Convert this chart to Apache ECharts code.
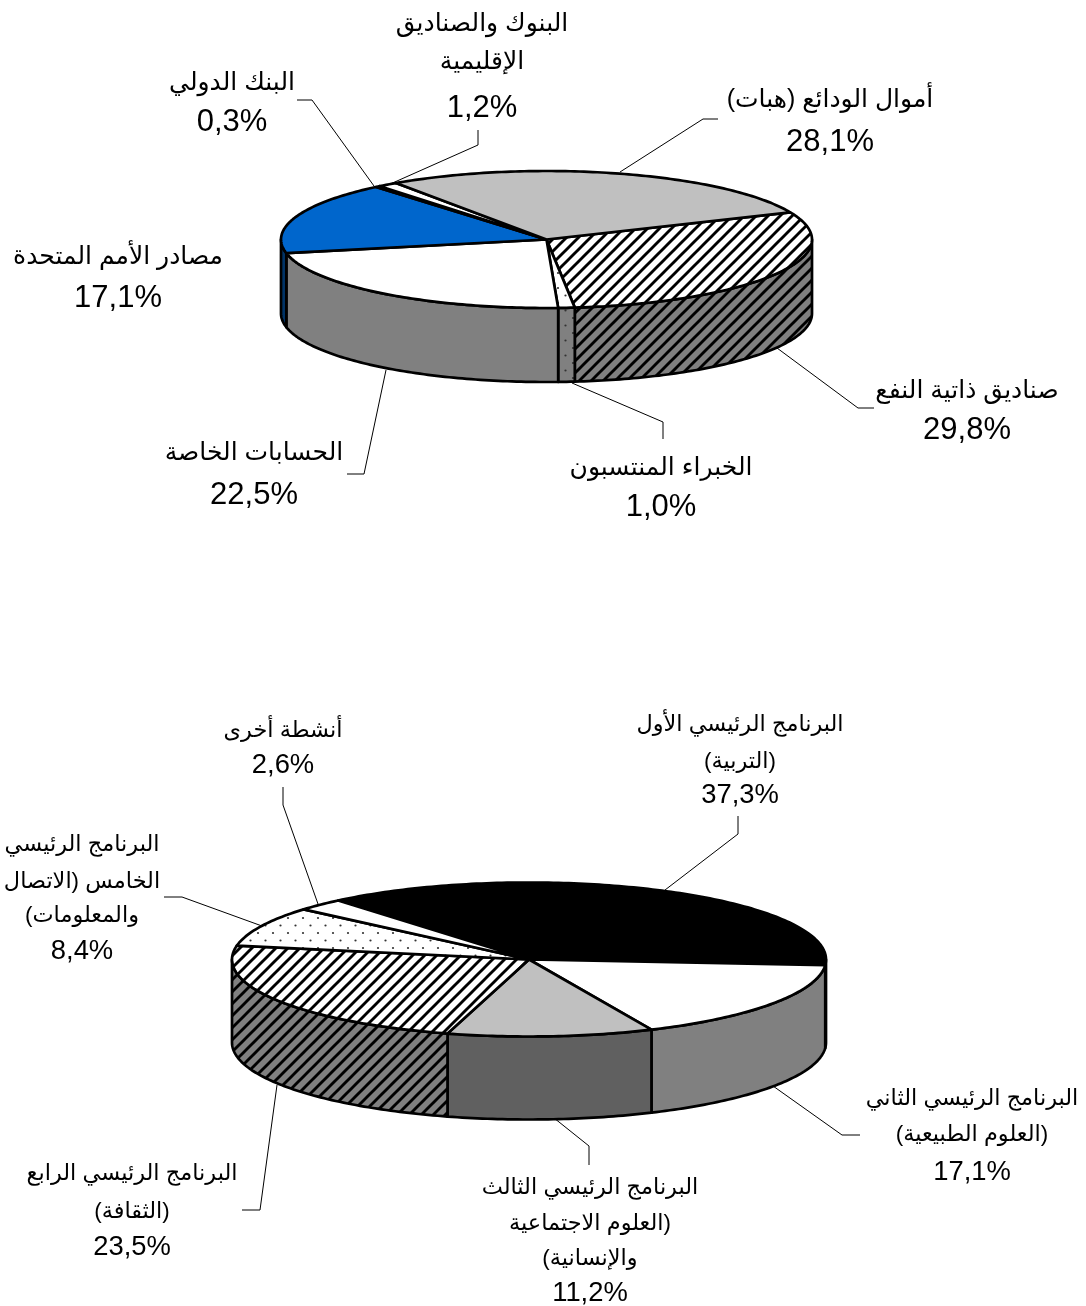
<!DOCTYPE html>
<html dir="rtl" lang="ar">
<head>
<meta charset="utf-8">
<script src="https://cdn.jsdelivr.net/npm/echarts@6/dist/echarts.min.js"></script>
<style>html,body{margin:0;padding:0;background:#fff}#c{position:absolute;left:0;top:0;width:1086px;height:1306px}</style>
</head>
<body>
<div id="c"></div>
<script>
// ---- data: clockwise from the first slice ----
var fundLabels = ['صناديق ذاتية النفع','الخبراء المنتسبون','الحسابات الخاصة','مصادر الأمم المتحدة','البنك الدولي','البنوك والصناديق\nالإقليمية','أموال الودائع (هبات)'];
var fundValues = [29.8,1.0,22.5,17.1,0.3,1.2,28.1];
var programLabels = ['البرنامج الرئيسي الأول\n(التربية)','البرنامج الرئيسي الثاني\n(العلوم الطبيعية)','البرنامج الرئيسي الثالث\n(العلوم الاجتماعية\nوالإنسانية)','البرنامج الرئيسي الرابع\n(الثقافة)','البرنامج الرئيسي\nالخامس (الاتصال\nوالمعلومات)','أنشطة أخرى'];
var programValues = [37.3,17.1,11.2,23.5,8.4,2.6];

// ---- styles per slice: [top fill, wall fill] ----
var fundFills = [['hatchW','hatchG'],['dotW','dotG'],['#ffffff','#808080'],['#0066cc','#003366'],['#ffffff','#808080'],['#ffffff','#808080'],['#c0c0c0','#606060']];
var programFills = [['#000000','#000000'],['#ffffff','#808080'],['#c0c0c0','#606060'],['hatchW','hatchG'],['dotW','dotG'],['#ffffff','#808080']];

// ---- layout ----
var fundPie = {cx:546.5, cy:239.5, a:265.5, b:68.5, depth:74, start:23.4, arabicSize:25, pctSize:31};
var programPie = {cx:529, cy:959.5, a:297, b:77, depth:83, start:130, arabicSize:22.4, pctSize:27.4};
// label centre x and the middle y of each line
var fundText = [[967,[391,430]],[661,[468,507]],[254,[453,495]],[118,[257,298]],[232,[83,122]],[482,[24,62,108]],[830,[100,142]]];
var programText = [[740,[725,762,795]],[972,[1099,1135,1172]],[590,[1188,1224,1259,1293]],[132,[1174,1212,1247]],[82,[845,882,916,951]],[283,[731,765]]];
var fundLeaders = [[[777,348],[858,408],[874,408]],[[572,383],[663,422],[663,439]],[[386,370],[364,474],[347,474]],null,[[374,186],[312,100],[297,100]],[[388,185],[478,145],[478,130]],[[620,172],[703,119],[718,119]]];
var programLeaders = [[[665,890],[738,834],[738,816]],[[773,1086],[842,1135],[860,1135]],[[554,1118],[589,1146],[589,1165]],[[277,1085],[260,1210],[242,1210]],[[262,926],[182,897],[164,897]],[[318,904],[283,805],[283,787]]];

var FONT = "'Liberation Sans','DejaVu Sans',sans-serif";
var EDGE = 2.7;

// ---- patterns ----
function tile(bg, kind){
  var s = kind === 'hatch' ? 12 : 15, c = document.createElement('canvas'); c.width = s; c.height = s;
  var x = c.getContext('2d'); x.fillStyle = bg; x.fillRect(0,0,s,s);
  x.strokeStyle = '#000'; x.fillStyle = '#000';
  if(kind === 'hatch'){
    x.lineWidth = 2.9;
    [-s,0,s].forEach(function(o){ x.beginPath(); x.moveTo(o-2,s+2); x.lineTo(o+s+2,-2); x.stroke(); });
  } else {
    x.fillStyle = '#333';
    [[3,3],[10.5,10.5]].forEach(function(p){ x.beginPath(); x.arc(p[0],p[1],1.1,0,Math.PI*2); x.fill(); });
  }
  return {image:c, repeat:'repeat'};
}
var PATTERNS = {hatchW:tile('#fff','hatch'), hatchG:tile('#808080','hatch'), dotW:tile('#fff','dot'), dotG:tile('#808080','dot')};
function paint(f){ return PATTERNS[f] || f; }

// ---- geometry derived from the values ----
function point(pie, deg, dy){
  var r = deg*Math.PI/180;
  return [pie.cx + pie.a*Math.cos(r), pie.cy - pie.b*Math.sin(r) + (dy||0)];
}
function arc(pie, from, to, dy){
  var pts = [], n = Math.max(2, Math.ceil(Math.abs(from-to)));
  for(var i=0;i<=n;i++) pts.push(point(pie, from+(to-from)*i/n, dy));
  return pts;
}
function pieSeries(pie, labels, values, fills, text, leaders){
  var total = values.reduce(function(s,v){return s+v;},0);
  return {
    type:'custom', coordinateSystem:'none', silent:true, animation:false, clip:false,
    data: values.map(function(v,i){return {name:labels[i].replace(/\n/g,' '), value:[v]};}),
    renderItem:function(params, api){
      var i = params.dataIndex, before = 0;
      for(var k=0;k<i;k++) before += values[k];
      var v = api.value(0);
      var a0 = pie.start - before/total*360, a1 = a0 - v/total*360;
      var kids = [];
      // wall: the part of the slice on the front half of the ellipse
      [-720,-360,0].forEach(function(off){
        var hi = Math.min(a0, off), lo = Math.max(a1, off-180);
        if(lo < hi){
          kids.push({type:'polygon', z2:1,
            shape:{points: arc(pie,hi,lo,0).concat(arc(pie,lo,hi,pie.depth))},
            style:{fill:paint(fills[i][1]), stroke:'#000', lineWidth:EDGE, lineJoin:'round'}});
        }
      });
      // top
      kids.push({type:'polygon', z2:2,
        shape:{points:[[pie.cx,pie.cy]].concat(arc(pie,a0,a1,0))},
        style:{fill:paint(fills[i][0]), stroke:'#000', lineWidth:EDGE, lineJoin:'round'}});
      // leader
      if(leaders[i]) kids.push({type:'polyline', z2:0, shape:{points:leaders[i]}, style:{fill:null, stroke:'#000', lineWidth:1}});
      // text
      var lines = labels[i].split('\n').concat(v.toFixed(1).replace('.',',')+'%');
      lines.forEach(function(t,j){
        var isPct = j === lines.length-1;
        kids.push({type:'text', z2:3, style:{text:t, x:text[i][0], y:text[i][1][j], align:'center', verticalAlign:'middle',
          fontFamily:FONT, fontSize:isPct?pie.pctSize:pie.arabicSize, fill:'#000'}});
      });
      return {type:'group', children:kids};
    }
  };
}
var chart = echarts.init(document.getElementById('c'), null, {renderer:'canvas', width:1086, height:1306});
chart.setOption({
  backgroundColor:'#fff', animation:false,
  series:[pieSeries(fundPie,fundLabels,fundValues,fundFills,fundText,fundLeaders),
          pieSeries(programPie,programLabels,programValues,programFills,programText,programLeaders)]
});
</script>
</body>
</html>
